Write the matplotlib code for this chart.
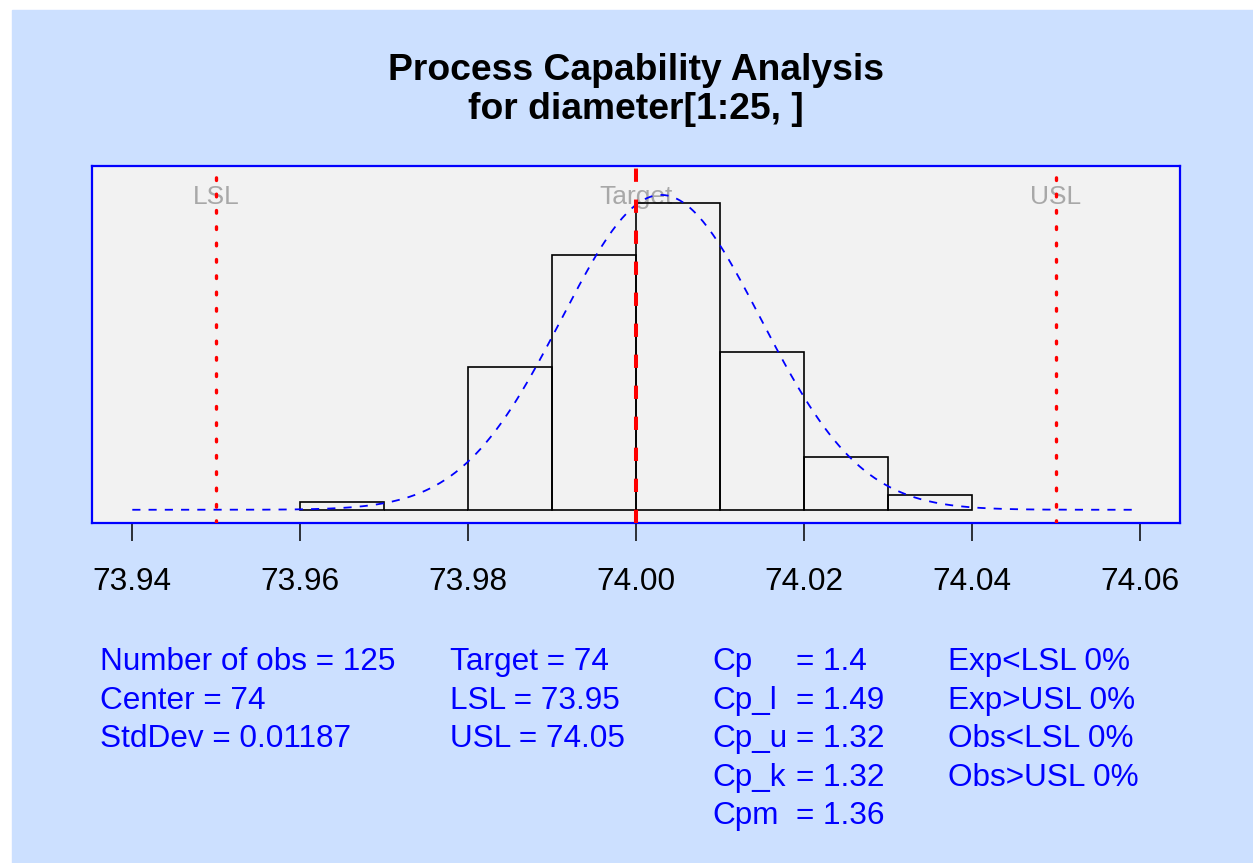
import matplotlib.pyplot as plt
import numpy as np
from matplotlib.patches import Rectangle

plt.rcParams['font.family'] = ['Liberation Sans', 'DejaVu Sans']

# Histogram of diameter[1:25, ] (bin edges and counts, n = 125)
bin_edges = [73.96, 73.97, 73.98, 73.99, 74.00, 74.01, 74.02, 74.03, 74.04]
bin_counts = [1, 0, 19, 34, 41, 21, 7, 2]
n_obs = 125

# Process values
center = 74.003
std_dev = 0.01187
target = 74.00
lsl = 73.95
usl = 74.05

xticks = [73.94, 73.96, 73.98, 74.00, 74.02, 74.04, 74.06]

col1 = ['Number of obs = 125', 'Center = 74', 'StdDev = 0.01187']
col2 = ['Target = 74', 'LSL = 73.95', 'USL = 74.05']
col3_names = ['Cp', 'Cp_l', 'Cp_u', 'Cp_k', 'Cpm']
col3_values = ['= 1.4', '= 1.49', '= 1.32', '= 1.32', '= 1.36']
col4 = ['Exp<LSL 0%', 'Exp>USL 0%', 'Obs<LSL 0%', 'Obs>USL 0%']

W, H = 1253, 863
fig = plt.figure(figsize=(W / 100, H / 100), dpi=100)
fig.patch.set_facecolor('white')
fig.patches.append(Rectangle((12 / W, 0), 1 - 12 / W, 1 - 10 / H,
                             transform=fig.transFigure, color='#CCE0FF', zorder=-10))


def fx(x):
    return x / W


def fy(y):
    return 1 - y / H


ax = fig.add_axes([fx(92), fy(523), fx(1180) - fx(92), fy(166) - fy(523)])
ax.set_facecolor('#F2F2F2')
for s in ax.spines.values():
    s.set_color('#0000FF')
    s.set_linewidth(1.6)

# histogram as densities
widths = np.diff(bin_edges)
dens = np.array(bin_counts) / (n_obs * widths)
ax.bar(bin_edges[:-1], dens, width=widths, align='edge', fill=False,
       edgecolor='black', linewidth=1.2, zorder=2)

# normal curve
xs = np.linspace(73.94, 74.06, 400)
ys = np.exp(-0.5 * ((xs - center) / std_dev) ** 2) / (std_dev * np.sqrt(2 * np.pi))
ax.plot(xs, ys, color='#0000FF', linewidth=1.3, linestyle=(0, (4.5, 4.5)), zorder=3)

ymax = ys.max() * 1.05
ax.set_ylim(-0.04 * ymax, 1.04 * ymax)
ax.set_xlim(73.94 - 0.0048, 74.06 + 0.0048)

# spec limits
lab_y = ymax * 0.947
for xv, lab in [(lsl, 'LSL'), (target, 'Target'), (usl, 'USL')]:
    ax.text(xv, lab_y, lab, color='#A8A8A8', fontsize=19, ha='center', va='center', zorder=1)
for xv in [lsl, usl]:
    ax.axvline(xv, color='red', linewidth=2.4, linestyle=(0, (0.8, 4.1)),
               dash_capstyle='round', zorder=4)
ax.axvline(target, color='red', linewidth=2.9, linestyle=(0, (3.3, 4.4)), zorder=4)

ax.set_xticks(xticks)
ax.set_xticklabels(['%.2f' % t for t in xticks], fontsize=22.7)
ax.tick_params(axis='x', direction='out', length=13, width=1.1, pad=19, color='black')
ax.set_yticks([])

# title
fig.text(fx(636), fy(80), 'Process Capability Analysis', fontsize=26.8,
         fontweight='bold', ha='center', va='baseline')
fig.text(fx(636), fy(119), 'for diameter[1:25, ]', fontsize=26.8,
         fontweight='bold', ha='center', va='baseline')

# statistics
base = [670, 708.5, 747, 785.5, 824]
blue = '#0000FF'
fs = 22.7
for i, t in enumerate(col1):
    fig.text(fx(100), fy(base[i]), t, color=blue, fontsize=fs, va='baseline')
for i, t in enumerate(col2):
    fig.text(fx(450), fy(base[i]), t, color=blue, fontsize=fs, va='baseline')
for i, (nm, v) in enumerate(zip(col3_names, col3_values)):
    fig.text(fx(712), fy(base[i]), nm, color=blue, fontsize=fs, va='baseline')
    fig.text(fx(796), fy(base[i]), v, color=blue, fontsize=fs, va='baseline')
for i, t in enumerate(col4):
    fig.text(fx(948), fy(base[i]), t, color=blue, fontsize=fs, va='baseline')

fig.savefig('out.png', dpi=100)
